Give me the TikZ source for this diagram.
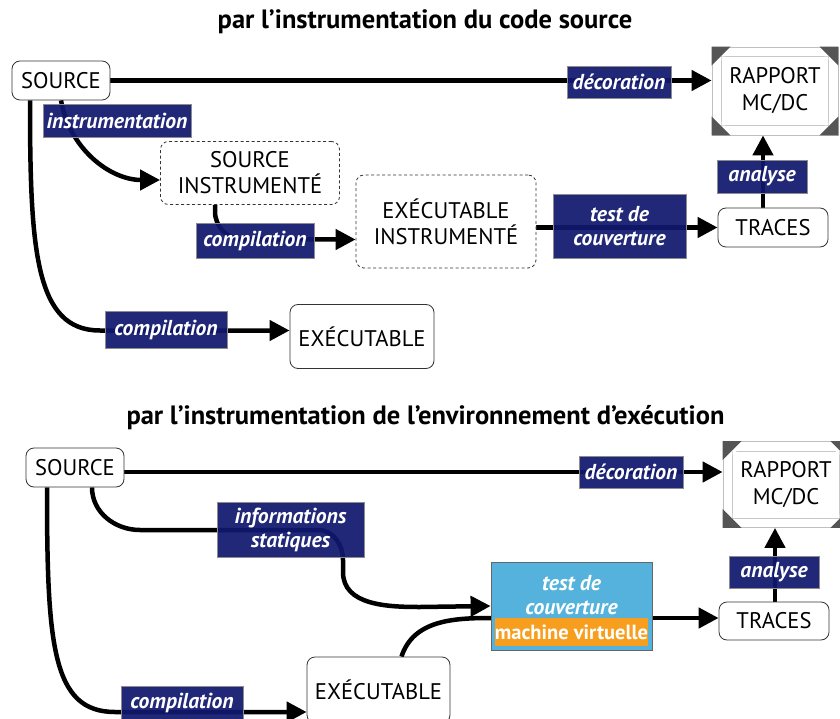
\documentclass[tikz,border=0pt]{standalone}
\usepackage{fontspec}
\setmainfont{PT Sans}
\usetikzlibrary{arrows.meta,calc}
\definecolor{lblnavy}{RGB}{17,24,110}
\definecolor{vmblue}{RGB}{84,178,220}
\definecolor{vmorange}{RGB}{248,158,30}
\definecolor{ornam}{RGB}{85,85,85}
\pgfdeclarelayer{bg}
\pgfsetlayers{bg,main}
\tikzset{
  box/.style={draw=black!80, line width=0.8pt, rounded corners=8pt, fill=white, inner sep=0pt,
    align=center, font=\fontsize{22.6}{26}\selectfont},
  dbox/.style={box, dash pattern=on 3pt off 2.5pt},
  lbl/.style={draw=black!45, line width=0.8pt, fill=lblnavy, fill opacity=0.93, text opacity=1,
    text=white, inner sep=0pt, align=center, font=\fontsize{21.6}{24}\bfseries\itshape\selectfont},
  ttl/.style={font=\fontsize{26.5}{30}\bfseries\selectfont},
  rap/.style={draw=black!25, line width=0.8pt, fill=white, inner sep=0pt, align=center,
    minimum width=126pt, minimum height=88pt, font=\fontsize{22.6}{27}\selectfont},
  flow/.style={line width=4.5pt, -{Triangle[length=20pt,width=20pt]}},
  plain/.style={line width=4.5pt}
}
\newcommand{\rapframe}[1]{%
  \draw[black!22, line width=0.8pt] ($(#1.south west)+(10pt,10pt)$) rectangle ($(#1.north east)-(10pt,10pt)$);
  \fill[ornam] (#1.north west) -- ++(19pt,0) -- ++(-19pt,-19pt) -- cycle;
  \fill[ornam] (#1.north east) -- ++(-19pt,0) -- ++(19pt,-19pt) -- cycle;
  \fill[ornam] (#1.south west) -- ++(19pt,0) -- ++(-19pt,19pt) -- cycle;
  \fill[ornam] (#1.south east) -- ++(-19pt,0) -- ++(19pt,19pt) -- cycle;
  \fill[white] ($(#1.north west)+(10pt,-10pt)$) -- ++(4pt,0) -- ++(-4pt,-4pt) -- cycle;
  \fill[white] ($(#1.north east)+(-10pt,-10pt)$) -- ++(-4pt,0) -- ++(4pt,-4pt) -- cycle;
  \fill[white] ($(#1.south west)+(10pt,10pt)$) -- ++(4pt,0) -- ++(-4pt,4pt) -- cycle;
  \fill[white] ($(#1.south east)+(-10pt,10pt)$) -- ++(-4pt,0) -- ++(4pt,4pt) -- cycle;
}
\begin{document}
\begin{tikzpicture}[x=1pt,y=1pt]
\useasboundingbox (0,0) rectangle (840,-719);
\begin{pgfonlayer}{bg}
\fill[white] (0,0) rectangle (840,-719);
\end{pgfonlayer}

% ---------- top diagram ----------
\node[ttl] (t1) at (425,-22) {par l’instrumentation du code source};
\node[box, minimum width=98pt, minimum height=39pt] (src1) at (61,-80.5) {SOURCE};
\node[rap] (rap1) at (775,-91) {RAPPORT\\MC/DC};
\rapframe{rap1}
\node[dbox, minimum width=179pt, minimum height=63pt] (srci) at (250,-173) {SOURCE\\INSTRUMENTÉ};
\node[dbox, minimum width=180pt, minimum height=93pt] (exi) at (446,-221.5) {EXÉCUTABLE\\INSTRUMENTÉ};
\node[box, minimum width=110pt, minimum height=39pt] (trc1) at (773,-227.5) {TRACES};
\node[box, minimum width=144pt, minimum height=64pt] (exe1) at (362,-336.5) {EXÉCUTABLE};

\begin{pgfonlayer}{bg}
\draw[flow] (src1.east) -- (rap1.west |- src1.east);
\draw[flow] (src1.south) to[out=-80,in=180] ([yshift=-7pt]srci.west);
\draw[flow] ([xshift=-31pt]src1.south) .. controls (30,-250) and (35,-330.5) .. (100,-330.5) -- ([yshift=6pt]exe1.west);
\draw[flow, rounded corners=28pt] ([xshift=-35pt]srci.south) |- ([yshift=-18pt]exi.west);
\draw[flow] (exi.east |- trc1.west) -- (trc1.west);
\draw[flow] (763,0 |- trc1.north) -- (763,0 |- rap1.south);
\end{pgfonlayer}

\node[lbl, minimum width=104pt, minimum height=32pt] (dec1) at (619,-82) {décoration};
\node[lbl, minimum width=148pt, minimum height=33pt] (ins1) at (117,-120.5) {instrumentation};
\node[lbl, minimum width=118pt, minimum height=35pt] (cmp1) at (255,-240.5) {compilation};
\node[lbl, minimum width=133pt, minimum height=64pt] (tst1) at (619.5,-226) {test de\\couverture};
\node[lbl, minimum width=90pt, minimum height=33pt] (ana1) at (762,-176.5) {analyse};
\node[lbl, minimum width=122pt, minimum height=37pt] (cmp2) at (166,-329.5) {compilation};

% ---------- bottom diagram ----------
\node[ttl] (t2) at (425.5,-418) {par l’instrumentation de l’environnement d’exécution};
\node[box, minimum width=98pt, minimum height=39pt] (src2) at (75,-467.5) {SOURCE};
\node[rap, minimum height=86pt] (rap2) at (786,-484.5) {RAPPORT\\MC/DC};
\rapframe{rap2}
\node[draw=black!60, line width=0.8pt, fill=vmblue, minimum width=161pt, minimum height=88pt, inner sep=0pt] (vm) at (571.5,-606) {};
\node[fill=vmorange, minimum width=151pt, minimum height=28pt, inner sep=0pt, text=white,
  font=\fontsize{20.5}{22}\bfseries\selectfont] (mv) at (571.5,-632) {machine virtuelle};
\node[text=white, align=center, inner sep=0pt, font=\fontsize{21.6}{24}\bfseries\itshape\selectfont] (tst2) at (571.5,-595) {test de\\couverture};
\node[box, minimum width=110pt, minimum height=38pt] (trc2) at (774,-621) {TRACES};
\node[box, minimum width=143pt, minimum height=66pt] (exe2) at (378.5,-690) {EXÉCUTABLE};

\coordinate (d2) at ([yshift=-4.5pt]src2.east);
\coordinate (vmin) at ([yshift=-12pt]vm.west);
\begin{pgfonlayer}{bg}
\draw[flow] (d2) -- (rap2.west |- d2);
\draw[flow] ([xshift=17pt]src2.south) to[out=-90,in=180] (140,-530) -- (318,-530)
  to[out=0,in=90] (343,-560) -- (343,-572) to[out=-90,in=180] (420,-607) -- (vm.west);
\draw[plain] ([xshift=23pt]exe2.north) to[out=72,in=180] (vmin) -- (vm.east |- vmin);
\draw[flow] (vm.east |- vmin) -- (trc2.west |- vmin);
\draw[flow] ([xshift=-28pt]src2.south) .. controls (47,-645) and (52,-712) .. (115,-712) -- ([yshift=-22pt]exe2.west);
\draw[flow] (775,0 |- trc2.north) -- (775,0 |- rap2.south);
\end{pgfonlayer}

\node[lbl, minimum width=104pt, minimum height=32pt] (dec2) at (631,-472) {décoration};
\node[lbl, minimum width=147pt, minimum height=55pt] (inf) at (290.5,-529.5) {informations\\statiques};
\node[lbl, minimum width=90pt, minimum height=32pt] (ana2) at (774,-572) {analyse};
\node[lbl, minimum width=122pt, minimum height=34pt] (cmp3) at (182,-703) {compilation};
\end{tikzpicture}
\end{document}
